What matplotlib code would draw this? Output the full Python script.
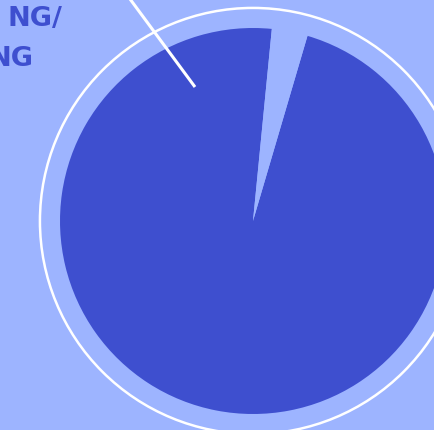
import matplotlib
matplotlib.use('Agg')
from matplotlib import pyplot as plt
from matplotlib.patches import Circle

# data: share of the pie (big dark slice, small gap slice)
labels = ['MAIN', 'OTHER']
shares = [97, 3]
# visible part of the (cut off) label
label_lines = ['NG/', 'NG']

bg = '#9db4ff'
dark = '#3e4fcf'

# pixel layout of the reference (434 x 431), pie center / radius in px
W, H = 434, 431
cx, cy, R = 253, 222, 193

fig = plt.figure(figsize=(W / 100, H / 100), dpi=100)
fig.patch.set_facecolor(bg)
ax = fig.add_axes([0, 0, 1, 1])
ax.set_facecolor(bg)

ax.pie(shares, colors=[dark, bg], startangle=73.6, counterclock=False,
       radius=1.0, center=(0, 0), wedgeprops=dict(linewidth=0))

# pie() resets the limits, so set them afterwards
ax.set_xlim(-cx / R, (W - cx) / R)
ax.set_ylim(-(H - cy) / R, cy / R)
ax.set_aspect('equal')
ax.axis('off')

# outer white ring
ax.add_patch(Circle((0, 0), 1.104, fill=False, edgecolor='white', lw=1.8))

def px(x, y):
    return (x - cx) / R, (cy - y) / R

# leader line from the label into the main slice
x0, y0 = px(130, 0)
x1, y1 = px(195, 88)
ax.plot([x0, x1], [y0, y1], color='white', lw=2.2, solid_capstyle='butt', clip_on=False)

# label (cut off at the left edge in the reference)
tx, ty = px(62, 26)
ax.text(tx, ty, label_lines[0], ha='right', va='baseline', fontsize=19.5,
        fontweight='bold', color=dark)
tx, ty = px(33, 66)
ax.text(tx, ty, label_lines[1], ha='right', va='baseline', fontsize=19.5,
        fontweight='bold', color=dark)

fig.savefig('out.png', dpi=100, facecolor=bg)
